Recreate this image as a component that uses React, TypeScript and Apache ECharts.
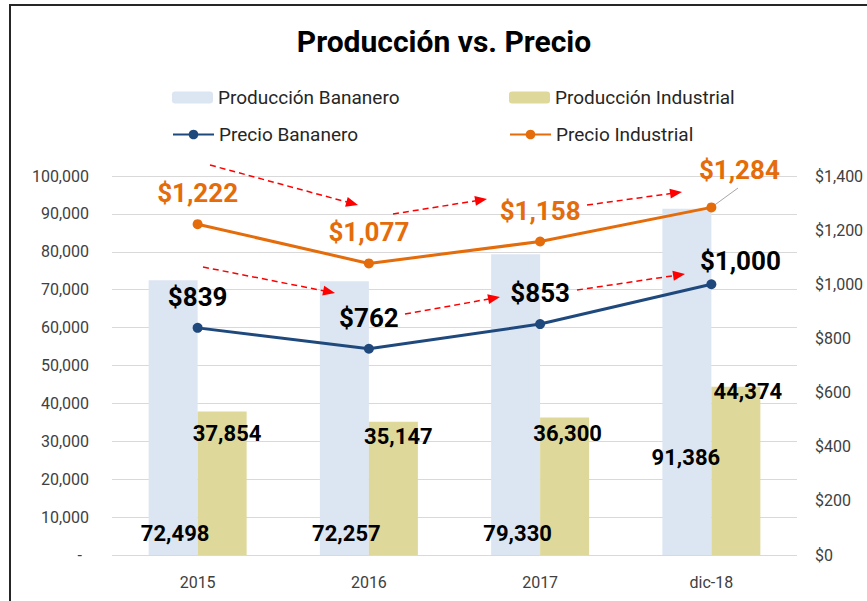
import React, { useEffect, useRef } from 'react';
import * as echarts from 'echarts';

const categories = ['2015', '2016', '2017', 'dic-18'];
const produccionBananero = [72498, 72257, 79330, 91386];
const produccionIndustrial = [37854, 35147, 36300, 44374];
const precioBananero = [839, 762, 853, 1000];
const precioIndustrial = [1222, 1077, 1158, 1284];

const leftAxisMax = 100000;
const leftAxisStep = 10000;
const rightAxisMax = 1400;
const rightAxisStep = 200;

// red dashed trend arrows (annotation, pixel positions: start, tip)
const trendArrows: number[][][] = [
  [[210, 165], [358, 205]],
  [[393, 214], [487, 199]],
  [[587, 205], [682, 192]],
  [[203, 267], [335, 293]],
  [[405, 314], [500, 297]],
  [[577, 290], [685, 274]],
];

const FONT = 'Roboto, "Liberation Sans", sans-serif';
const fmt = (v: number) => v.toLocaleString('en-US');

export default function App() {
  const ref = useRef<HTMLDivElement>(null);
  useEffect(() => {
    if (!ref.current) return;
    const chart = echarts.init(ref.current, undefined, { renderer: 'svg' });

    const arrowGraphics: any[] = [];
    trendArrows.forEach(([s, t]) => {
      const dx = t[0] - s[0];
      const dy = t[1] - s[1];
      const len = Math.sqrt(dx * dx + dy * dy);
      const ux = dx / len;
      const uy = dy / len;
      const bx = t[0] - ux * 12;
      const by = t[1] - uy * 12;
      arrowGraphics.push({
        type: 'line',
        silent: true,
        z: 50,
        shape: { x1: s[0], y1: s[1], x2: bx + ux * 2, y2: by + uy * 2 },
        style: { stroke: '#FF0000', lineWidth: 1.5, lineDash: [6, 4] },
      });
      arrowGraphics.push({
        type: 'polygon',
        silent: true,
        z: 50,
        shape: {
          points: [
            [t[0], t[1]],
            [bx - uy * 5, by + ux * 5],
            [bx + uy * 5, by - ux * 5],
          ],
        },
        style: { fill: '#FF0000' },
      });
    });

    const legendText = { fontFamily: FONT, fontSize: 19, color: '#262626' };
    const legendBase = { itemWidth: 41, itemHeight: 12, itemGap: 5, padding: 0, textStyle: legendText, selectedMode: false };

    const option: any = {
      animation: false,
      backgroundColor: '#ffffff',
      textStyle: { fontFamily: FONT },
      title: {
        text: 'Producción vs. Precio',
        left: 444,
        top: 26,
        textAlign: 'center',
        padding: 0,
        textStyle: { fontFamily: FONT, fontSize: 30, fontWeight: 'bold', color: '#000' },
      },
      legend: [
        { ...legendBase, data: ['Producción Bananero'], left: 172, top: 88 },
        { ...legendBase, data: ['Producción Industrial'], left: 509, top: 88 },
        { ...legendBase, data: ['Precio Bananero'], left: 172, top: 125 },
        { ...legendBase, data: ['Precio Industrial'], left: 509, top: 125 },
      ],
      graphic: [
        {
          type: 'rect',
          silent: true,
          z: 100,
          shape: { x: 10, y: 5, width: 900, height: 700 },
          style: { fill: 'none', stroke: '#262626', lineWidth: 2 },
        },
        ...arrowGraphics,
      ],
      grid: { left: 112, right: 70, top: 176, bottom: 46 },
      xAxis: {
        type: 'category',
        data: categories,
        axisLine: { show: false },
        axisTick: { show: false },
        axisLabel: { margin: 19, fontSize: 16, color: '#404040', fontFamily: FONT },
      },
      yAxis: [
        {
          type: 'value',
          min: 0,
          max: leftAxisMax,
          interval: leftAxisStep,
          axisLine: { show: false },
          axisTick: { show: false },
          splitLine: { lineStyle: { color: '#d9d9d9', width: 1 } },
          axisLabel: {
            margin: 23,
            fontSize: 16,
            color: '#404040',
            fontFamily: FONT,
            formatter: (v: number) => (v === 0 ? '{d|-}' : fmt(v)),
            rich: { d: { fontSize: 16, color: '#404040', fontFamily: FONT, padding: [0, 7, 0, 0] } },
          },
        },
        {
          type: 'value',
          min: 0,
          max: rightAxisMax,
          interval: rightAxisStep,
          axisLine: { show: false },
          axisTick: { show: false },
          splitLine: { show: false },
          axisLabel: {
            margin: 18,
            fontSize: 16,
            color: '#404040',
            fontFamily: FONT,
            formatter: (v: number) => '$' + fmt(v),
          },
        },
      ],
      series: [
        {
          name: 'Producción Bananero',
          type: 'bar',
          barWidth: 49,
          barGap: '0%',
          itemStyle: { color: '#DCE6F2' },
          label: {
            show: true,
            position: 'insideBottom',
            distance: 11,
            offset: [2, 0],
            fontSize: 22,
            fontWeight: 'bold',
            color: '#000',
            fontFamily: FONT,
            formatter: (p: any) => fmt(p.value),
          },
          data: produccionBananero.map((v, i) =>
            i === 3 ? { value: v, label: { offset: [-1, -76] } } : v
          ),
        },
        {
          name: 'Producción Industrial',
          type: 'bar',
          barWidth: 49,
          barGap: '0%',
          itemStyle: { color: '#DED99B' },
          label: {
            show: true,
            position: 'insideTop',
            distance: 5,
            fontSize: 22,
            fontWeight: 'bold',
            color: '#000',
            fontFamily: FONT,
            formatter: (p: any) => fmt(p.value),
          },
          data: produccionIndustrial.map((v, i) => {
            const offs = [[5, 6], [5, -1], [3, 0], [12, -11]];
            return { value: v, label: { offset: offs[i] } };
          }),
        },
        {
          name: 'Precio Bananero',
          type: 'line',
          yAxisIndex: 1,
          symbol: 'circle',
          symbolSize: 10,
          z: 5,
          lineStyle: { color: '#1F497D', width: 3 },
          itemStyle: { color: '#1F497D' },
          label: {
            show: true,
            position: 'top',
            distance: 13,
            fontSize: 26,
            fontWeight: 'bold',
            color: '#000',
            fontFamily: FONT,
            formatter: (p: any) => '$' + fmt(p.value),
          },
          data: precioBananero.map((v, i) =>
            i === 3 ? { value: v, label: { offset: [29, 8] } } : v
          ),
        },
        {
          name: 'Precio Industrial',
          type: 'line',
          yAxisIndex: 1,
          symbol: 'circle',
          symbolSize: 10,
          z: 5,
          lineStyle: { color: '#E46C0A', width: 3 },
          itemStyle: { color: '#E46C0A' },
          label: {
            show: true,
            position: 'top',
            distance: 13,
            fontSize: 26,
            fontWeight: 'bold',
            color: '#E46C0A',
            fontFamily: FONT,
            formatter: (p: any) => '$' + fmt(p.value),
          },
          data: precioIndustrial.map((v, i) =>
            i === 3 ? { value: v, label: { offset: [28, -6] } } : v
          ),
          markLine: {
            silent: true,
            symbol: ['none', 'none'],
            label: { show: false },
            emphasis: { disabled: true },
            lineStyle: { color: '#A6A6A6', width: 1, type: 'solid' },
            data: [[{ coord: [categories[3], precioIndustrial[3]] }, { x: 738, y: 188 }]],
          },
        },
      ],
    };

    chart.setOption(option);
    return () => chart.dispose();
  }, []);

  return (
    <div
      ref={ref}
      style={{ position: 'fixed', left: 0, top: 0, width: 867, height: 601, background: '#fff' }}
    />
  );
}
